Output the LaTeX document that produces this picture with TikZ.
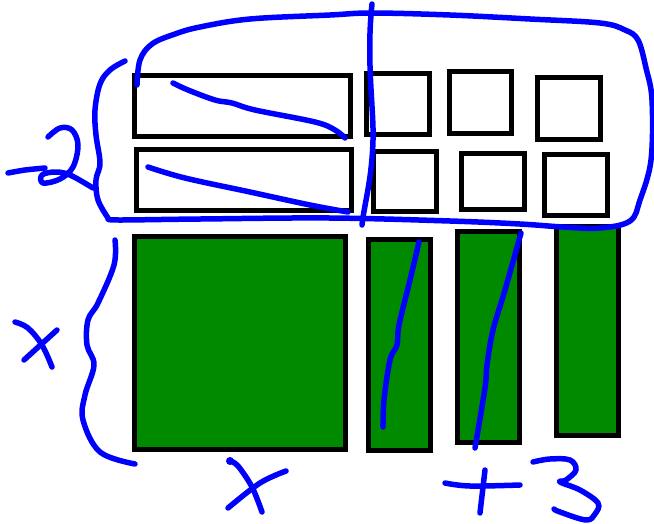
\documentclass[tikz,border=0pt]{standalone}
\usepackage{xcolor}
\usepackage{tikz}
\definecolor{tilegreen}{RGB}{0,138,0}
\definecolor{penblue}{RGB}{0,0,255}

\begin{document}
\begin{tikzpicture}[x=1pt, y=-1pt,
        xtile/.style={draw=black, line width=5pt, fill=tilegreen},
        unit/.style={draw=black, line width=5pt, fill=white},
        ink/.style={draw=penblue, line width=5.5pt, line cap=round, line join=round}
        ]
        \useasboundingbox (0,0) rectangle (654,523);

        % ---------------- Top rows (white tiles) ----------------
        \draw[unit] (134.5, 75.5) rectangle (350.5,136.5);
        \draw[unit] (366.5, 73.5) rectangle (429.5,134.5);
        \draw[unit] (449.5, 71.5) rectangle (511.5,133.5);
        \draw[unit] (537.5, 77.5) rectangle (600.5,139.5);
        \draw[unit] (136.5,149.5) rectangle (351.5,210.5);
        \draw[unit] (373.5,151.5) rectangle (436.5,211.5);
        \draw[unit] (461.5,153.5) rectangle (524.5,209.5);
        \draw[unit] (544.5,154.5) rectangle (607.5,215.5);

        % ---------------- Bottom row (green tiles) --------------
        \draw[xtile] (134.5,236.5) rectangle (345,449.5);
        \draw[xtile] (368.5,239.5) rectangle (430.5,450.5);
        \draw[xtile] (457,231)     rectangle (519,442);
        \draw[xtile] (556,226)     rectangle (618,435);

        % ---------------- Loop round the top rows ---------------
        \draw[ink] plot[smooth, tension=0.6] coordinates {(137,85) (140,60) (152,44) (175,34)
                (200,27) (250,19) (330,15) (372,13) (450,15) (530,19) (600,23) (625,30)
                (638,40) (646,68) (652,100) (651,160) (640,200) (630,221) (600,228)
                (563,227) (520,224) (450,221) (330,218) (200,219) (120,220) (108,219)};

        % ---------------- Brace and -2 ----------------
        \draw[ink] plot[smooth, tension=0.6] coordinates {(125,61) (110,70) (100,84) (95,110)
                (96,135) (100,163) (96,180) (98,200) (108,218)};
        \draw[ink] plot[smooth, tension=0.6] coordinates {(48,137) (60,128) (72,130) (78,145)
                (73,167) (60,179) (43,183) (42,175) (55,172) (70,175) (93,188)};
        \draw[ink] plot[smooth] coordinates {(8,173) (25,170) (45,168)};

        % ---------------- Strokes through the tiles -------------
        \draw[ink] (372,4) .. controls (366,60) and (374,110) .. (373,140)
                .. controls (372,180) and (364,205) .. (362,225);
        \draw[ink] plot[smooth, tension=0.6] coordinates {(173,83) (188,90) (215,100)
                (232,103) (255,110) (315,122) (335,130) (345,138)};
        \draw[ink] plot[smooth, tension=0.6] coordinates {(148,167) (185,178) (250,192)
                (310,205) (348,212)};
        \draw[ink] plot[smooth, tension=0.6] coordinates {(419,242) (410,280) (399,325)
                (397,345) (390,360) (384,400) (383,427)};
        \draw[ink] plot[smooth, tension=0.6] coordinates {(521,233) (505,290) (493,330)
                (487,365) (485,388) (475,448)};

        % ---------------- Brace and x on the left ---------------
        \draw[ink] plot[smooth, tension=0.6] coordinates {(115,240) (114,265) (98,303)
                (88,320) (87,345) (94,365) (85,395) (83,420) (100,452) (135,464)};
        \draw[ink] plot[smooth, tension=0.6] coordinates {(15,322) (28,328) (42,345) (52,367)};
        \draw[ink] (57,330) -- (24,360);

        % ---------------- x and +3 at the bottom ----------------
        \fill[penblue] (230,461) circle (4);
        \draw[ink] plot[smooth, tension=0.6] coordinates {(230,461) (238,466) (252,487) (262,512)};
        \draw[ink] plot[smooth, tension=0.6] coordinates {(286,471) (260,483) (228,508)};
        \draw[ink] plot[smooth, tension=0.6] coordinates {(445,483) (470,486) (520,485)};
        \draw[ink] (485,470) -- (480,513);
        \draw[ink] plot[smooth, tension=0.6] coordinates {(533,462) (550,459) (570,460)
                (576,470) (566,480) (560,482) (580,490) (598,503) (595,514) (586,520)
                (560,512) (554,509)};
\end{tikzpicture}
\end{document}
